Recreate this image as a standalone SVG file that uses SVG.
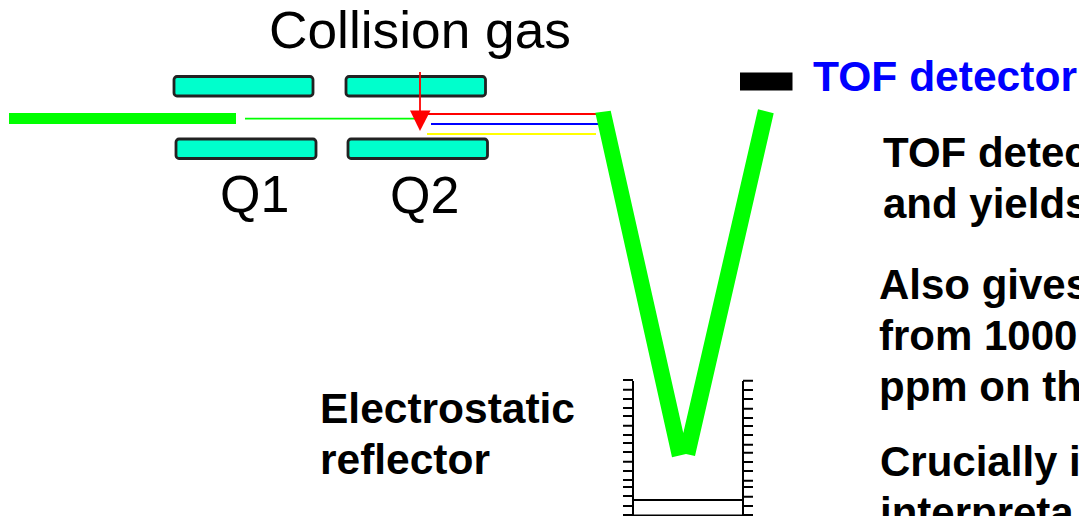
<svg xmlns="http://www.w3.org/2000/svg" width="1079" height="516" viewBox="0 0 1079 516">
<style>
.q{fill:#00ffcc;stroke:#222;stroke-width:2.800}
.t{font-family:"Liberation Sans",Arial,sans-serif;fill:#000}
.b{font-weight:bold;font-size:42.500px}
.c{font-weight:bold;font-size:42px}
.l{font-size:52px}
.tick{stroke:#000;stroke-width:2;fill:none}
.frame{stroke:#000;stroke-width:2;fill:none}
</style>
<rect width="1079" height="516" fill="#fff"/>
<g id="q1-top"><rect class="q" x="174" y="76.500" width="139" height="19.500" rx="3"/></g>
<g id="q2-top"><rect class="q" x="346" y="76.500" width="139.500" height="19.500" rx="3"/></g>
<g id="q1-bottom"><rect class="q" x="176" y="139" width="140" height="19.500" rx="3"/></g>
<g id="q2-bottom"><rect class="q" x="348" y="139" width="139.500" height="19.500" rx="3"/></g>
<g id="connectors">
<rect x="9" y="113" width="227" height="11" fill="#00ff00"/>
<line x1="245" y1="118.700" x2="416" y2="118.700" stroke="#00ff00" stroke-width="1.800"/>
<line x1="428" y1="114" x2="597" y2="114" stroke="#ff0000" stroke-width="1.800"/>
<line x1="431" y1="124" x2="598" y2="124" stroke="#0000ff" stroke-width="1.800"/>
<line x1="427" y1="134" x2="596" y2="134" stroke="#ffff00" stroke-width="1.800"/>
<line x1="420" y1="72" x2="420" y2="112" stroke="#ff0000" stroke-width="1.800"/>
<polygon points="410,110.500 430.500,110.500 420,131" fill="#ff0000"/>
<polygon points="595.300,112.700 610.700,110.700 683.300,433 758,109.300 773.700,113.300 695,456 686,454 672,457.300" fill="#00ff00"/>
</g>
<g id="detector"><rect x="740" y="72.500" width="52.500" height="18" fill="#000"/></g>
<g id="reflector">
<path class="frame" d="M633 381V516M743 381V516M633 500H743M633 515.500H743"/>
<path class="tick" d="M623 380H633M623 389.700H633M623 399H633M623 408H633M623 416H633M623 425.700H633M623 435H633M623 443H633M623 452H633M623 461.700H633M623 471H633M623 480H633M623 487H633M623 496H633M623 506H633M623 515H633"/>
<path class="tick" d="M743 380.700H753M743 390H753M743 399H753M743 408.700H753M743 418H753M743 426H753M743 435H753M743 444.700H753M743 452.700H753M743 462H753M743 471H753M743 480.700H753M743 487H753M743 496.700H753M743 506H753M743 515H753"/>
</g>
<g id="labels">
<text class="t l" x="269" y="48" textLength="302" lengthAdjust="spacingAndGlyphs">Collision gas</text>
<text class="t l" x="220" y="212">Q1</text>
<text class="t l" x="390" y="213">Q2</text>
<text class="t b" x="813" y="91" textLength="264" lengthAdjust="spacingAndGlyphs" style="fill:#0000ff">TOF detector</text>
<text class="t b" x="320" y="423" textLength="255" lengthAdjust="spacingAndGlyphs">Electrostatic</text>
<text class="t b" x="320" y="474" textLength="170" lengthAdjust="spacingAndGlyphs">reflector</text>
<text class="t c" x="883" y="167">TOF detec</text>
<text class="t c" x="883" y="218">and yields</text>
<text class="t c" x="879" y="299">Also gives</text>
<text class="t c" x="879" y="350">from 1000</text>
<text class="t c" x="879" y="401">ppm on th</text>
<text class="t c" x="880" y="476">Crucially i</text>
<text class="t c" x="880" y="527">interpreta</text>
</g>
</svg>
